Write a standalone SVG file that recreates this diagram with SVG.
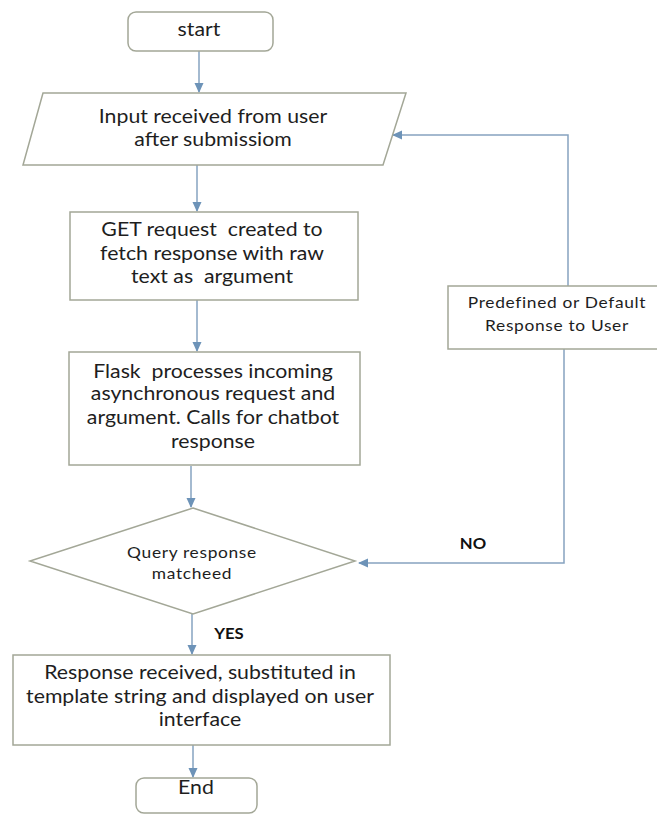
<svg xmlns="http://www.w3.org/2000/svg" width="657" height="814" viewBox="0 0 657 814">
<defs>
<marker id="arr" markerWidth="10" markerHeight="10" refX="9" refY="5" orient="auto" markerUnits="userSpaceOnUse">
<path d="M0,0.5 L10,5 L0,9.5 z" fill="#6d93b8"/>
</marker>
<style>
.shape{fill:#ffffff;stroke:#a3a797;stroke-width:1.5}
.conn{fill:none;stroke:#86a3c0;stroke-width:1.5}
.t{font-family:Lato,"Liberation Sans",sans-serif;font-size:19px;fill:#1e1e1e;text-anchor:middle;white-space:pre}
.s{font-family:Lato,"Liberation Sans",sans-serif;font-size:15.5px;fill:#1e1e1e;text-anchor:middle;letter-spacing:0.6px}
.b{font-family:Lato,"Liberation Sans",sans-serif;font-size:14.5px;font-weight:bold;fill:#111;text-anchor:middle}
</style>
</defs>
<rect width="657" height="814" fill="#ffffff"/>
<g id="connectors">
<path class="conn" d="M199,51 L199,92" marker-end="url(#arr)"/>
<path class="conn" d="M197,165 L197,211" marker-end="url(#arr)"/>
<path class="conn" d="M197,300 L197,351" marker-end="url(#arr)"/>
<path class="conn" d="M191,466 L191,507" marker-end="url(#arr)"/>
<path class="conn" d="M192,614 L192,654" marker-end="url(#arr)"/>
<path class="conn" d="M193,745 L193,777" marker-end="url(#arr)"/>
<path class="conn" d="M568,286 L568,135 L393,135" marker-end="url(#arr)"/>
<path class="conn" d="M564,349 L564,563 L359,563" marker-end="url(#arr)"/>
<text class="b" transform="translate(473,0) scale(1.15,1)" x="0" y="549">NO</text>
<text class="b" transform="translate(229,0) scale(1.15,1)" x="0" y="639">YES</text>
</g>
<g id="start">
<rect class="shape" x="128" y="12" width="145" height="39" rx="8"/>
<text class="t" transform="translate(199,0) scale(1.12,1)" x="0" y="36">start</text>
</g>
<g id="input">
<polygon class="shape" points="43,93 406,93 383,165 23,165"/>
<g transform="translate(213,0) scale(1.12,1)">
<text class="t" x="0" y="123">Input received from user</text>
<text class="t" x="0" y="146">after submissiom</text>
</g>
</g>
<g id="get">
<rect class="shape" x="70" y="212" width="288" height="88"/>
<g transform="translate(212,0) scale(1.12,1)">
<text class="t" x="0" y="236" xml:space="preserve">GET request  created to</text>
<text class="t" x="0" y="260">fetch response with raw</text>
<text class="t" x="0" y="283" xml:space="preserve">text as  argument</text>
</g>
</g>
<g id="flask">
<rect class="shape" x="69" y="352" width="291" height="113"/>
<g transform="translate(213,0) scale(1.12,1)">
<text class="t" x="0" y="378" xml:space="preserve">Flask  processes incoming</text>
<text class="t" x="0" y="400">asynchronous request and</text>
<text class="t" x="0" y="424">argument. Calls for chatbot</text>
<text class="t" x="0" y="448">response</text>
</g>
</g>
<g id="predefined">
<rect class="shape" x="448" y="286" width="215" height="63"/>
<g transform="translate(557,0) scale(1.12,1)">
<text class="s" x="0" y="308">Predefined or Default</text>
<text class="s" x="0" y="331">Response to User</text>
</g>
</g>
<g id="decision">
<polygon class="shape" points="193,508 355,561 193,614 30,561"/>
<g transform="translate(192,0) scale(1.12,1)">
<text class="s" x="0" y="558">Query response</text>
<text class="s" x="0" y="579">matcheed</text>
</g>
</g>
<g id="response">
<rect class="shape" x="13" y="655" width="377" height="90"/>
<g transform="translate(200,0) scale(1.12,1)">
<text class="t" x="0" y="679">Response received, substituted in</text>
<text class="t" x="0" y="703">template string and displayed on user</text>
<text class="t" x="0" y="726">interface</text>
</g>
</g>
<g id="end">
<rect class="shape" x="136" y="778" width="121" height="35" rx="8"/>
<text class="t" transform="translate(196,0) scale(1.12,1)" x="0" y="794">End</text>
</g>
</svg>
